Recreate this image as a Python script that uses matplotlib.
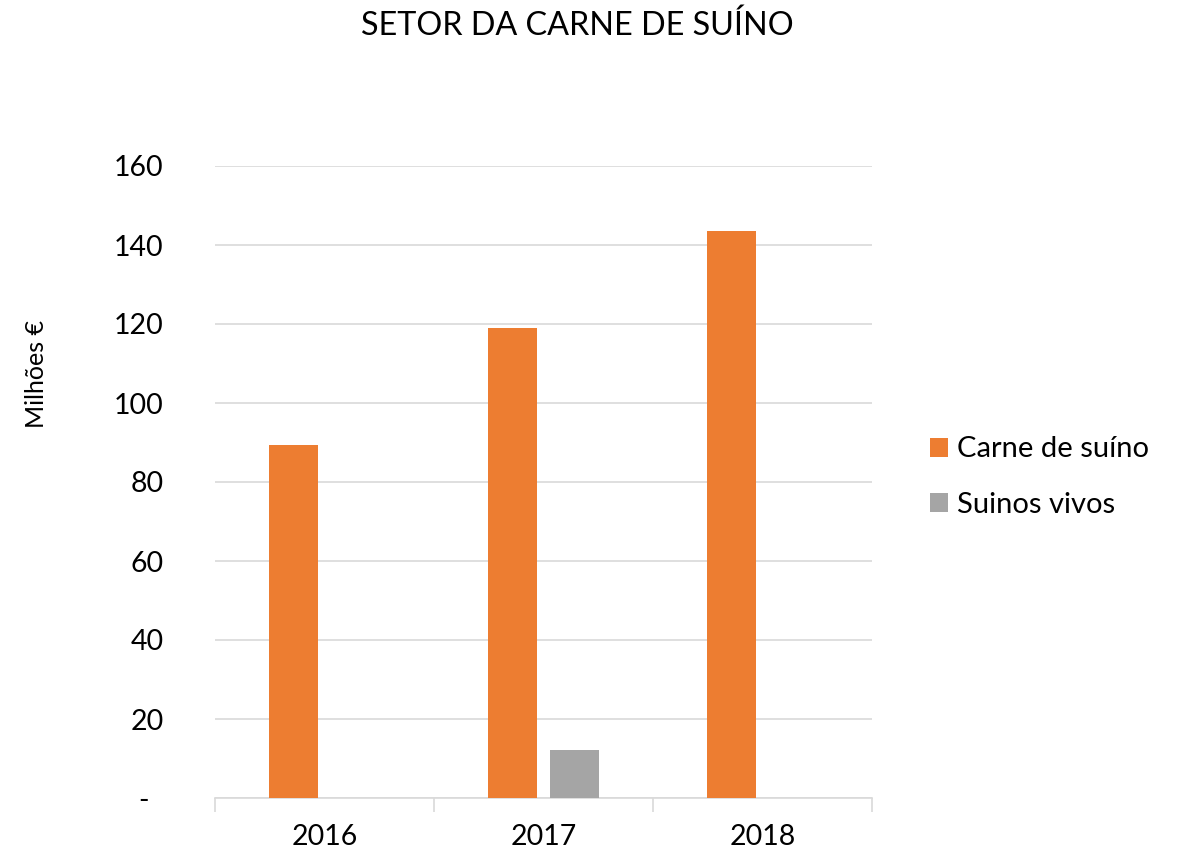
import matplotlib
matplotlib.use("Agg")
import matplotlib.pyplot as plt
import numpy as np

plt.rcParams['font.family'] = ['Lato', 'DejaVu Sans']

years = ["2016", "2017", "2018"]
carne = [89.4, 119.0, 143.6]
vivos = [0.0, 12.2, 0.0]
series_names = ["Carne de suíno", "Suinos vivos"]
colors = ["#ED7D31", "#A5A5A5"]
yticks = [0, 20, 40, 60, 80, 100, 120, 140, 160]
yticklabels = ["-  ", "20", "40", "60", "80", "100", "120", "140", "160"]

fig = plt.figure(figsize=(11.81, 8.55), dpi=100)
ax = fig.add_axes([215/1181, 1-798/855, (872-215)/1181, (798-166)/855])

x = np.arange(len(years))
w = 0.224
off = 0.143
b1 = ax.bar(x - off, carne, w, color=colors[0], label=series_names[0], zorder=3)
vals = [v if v > 0 else np.nan for v in vivos]
b2 = ax.bar(x + off, vals, w, color=colors[1], label=series_names[1], zorder=3)

ax.set_xlim(-0.5, 2.5)
ax.set_ylim(0, 160)
ax.set_yticks(yticks)
ax.set_yticklabels(yticklabels)
ax.set_xticks(x)
ax.set_xticklabels(years)
ax.set_xticks([-0.5, 0.5, 1.5, 2.5], minor=True)
ax.tick_params(axis='x', which='major', length=0, pad=19, labelsize=20.5)
ax.tick_params(axis='x', which='minor', length=10, color='#D9D9D9', width=1.2)
ax.tick_params(axis='y', length=0, pad=37, labelsize=20.5)

ax.grid(axis='y', color='#D9D9D9', linewidth=1.2, zorder=0)
for s in ['top', 'right', 'left']:
    ax.spines[s].set_visible(False)
ax.spines['bottom'].set_color('#D9D9D9')
ax.spines['bottom'].set_linewidth(1.2)

fig.text(577/1181, 1-26/855, "SETOR DA CARNE DE SUÍNO", ha='center', va='center', fontsize=23.3)
fig.text(36/1181, 1-374/855, "Milhões €", rotation=90, ha='center', va='center', fontsize=18)

leg = fig.legend(handles=[b1, b2], labels=series_names, loc='center left',
                 bbox_to_anchor=(930/1181, 1-477/855), frameon=False, fontsize=21,
                 handlelength=0.62, handleheight=0.62, handletextpad=0.3, labelspacing=1.0,
                 borderpad=0, borderaxespad=0)

fig.savefig("out.png", dpi=100)
